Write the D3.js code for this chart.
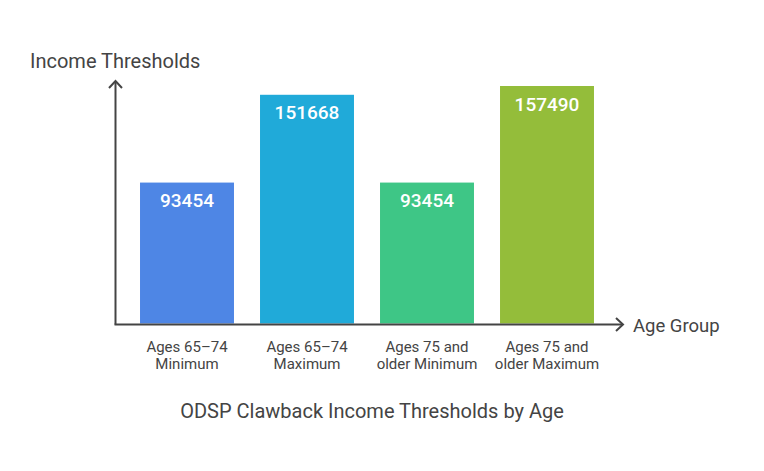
<!DOCTYPE html>
<html>
<head>
<meta charset="utf-8">
<script src="https://cdn.jsdelivr.net/npm/d3@7"></script>
<style>
  body { margin: 0; background: #fff; }
  svg { font-family: Roboto, "Noto Sans", sans-serif; }
</style>
</head>
<body>
<svg id="chart" width="764" height="471"></svg>
<script>
// data
var categories = [["Ages 65\u201374", "Minimum"], ["Ages 65\u201374", "Maximum"], ["Ages 75 and", "older Minimum"], ["Ages 75 and", "older Maximum"]];
var values = [93454, 151668, 93454, 157490];
var colors = ["#4e86e5", "#20aad9", "#3ec686", "#94bd3a"];

var svg = d3.select("#chart");
var axisColor = "#444";

var x = d3.scaleBand()
    .domain(d3.range(values.length))
    .range([127, 607])
    .paddingInner(0.217)
    .paddingOuter(0.1085);

var y = d3.scaleLinear()
    .domain([0, 157490])
    .range([323.5, 86]);

// bars
svg.selectAll("rect.bar")
    .data(values)
    .enter().append("rect")
    .attr("class", "bar")
    .attr("x", function (d, i) { return x(i); })
    .attr("width", x.bandwidth())
    .attr("y", function (d) { return y(d); })
    .attr("height", function (d) { return y(0) - y(d); })
    .attr("fill", function (d, i) { return colors[i]; });

// value labels
svg.selectAll("text.val")
    .data(values)
    .enter().append("text")
    .attr("class", "val")
    .attr("x", function (d, i) { return x(i) + x.bandwidth() / 2; })
    .attr("y", function (d) { return y(d) + 24.5; })
    .attr("text-anchor", "middle")
    .attr("fill", "#fff")
    .attr("font-size", "19px")
    .attr("font-weight", 500)
    .text(function (d) { return d; });

// category labels
var cat = svg.selectAll("text.cat")
    .data(categories)
    .enter().append("text")
    .attr("class", "cat")
    .attr("text-anchor", "middle")
    .attr("fill", axisColor)
    .attr("font-size", "15px");
cat.each(function (d, i) {
    var t = d3.select(this);
    d.forEach(function (line, j) {
        t.append("tspan")
            .attr("x", x(i) + x.bandwidth() / 2)
            .attr("y", 352 + j * 16.5)
            .text(line);
    });
});

// axes with arrows
var x0 = 115.5, y0 = 324.5;
svg.append("line")
    .attr("x1", x0).attr("y1", y0).attr("x2", x0).attr("y2", 81)
    .attr("stroke", axisColor).attr("stroke-width", 2);
svg.append("path")
    .attr("d", "M" + (x0 - 6.5) + "," + 88 + " L" + x0 + "," + 81 + " L" + (x0 + 6.5) + "," + 88)
    .attr("fill", "none").attr("stroke", axisColor).attr("stroke-width", 2);
svg.append("line")
    .attr("x1", x0 - 1).attr("y1", y0).attr("x2", 623).attr("y2", y0)
    .attr("stroke", axisColor).attr("stroke-width", 2);
svg.append("path")
    .attr("d", "M" + 616 + "," + (y0 - 6.5) + " L" + 623 + "," + y0 + " L" + 616 + "," + (y0 + 6.5))
    .attr("fill", "none").attr("stroke", axisColor).attr("stroke-width", 2);

// axis titles
svg.append("text")
    .attr("x", 30).attr("y", 68)
    .attr("fill", axisColor).attr("font-size", "20px")
    .text("Income Thresholds");
svg.append("text")
    .attr("x", 633).attr("y", 332)
    .attr("fill", axisColor).attr("font-size", "18.5px")
    .text("Age Group");

// chart title
svg.append("text")
    .attr("x", 372).attr("y", 418)
    .attr("text-anchor", "middle")
    .attr("fill", axisColor).attr("font-size", "20px")
    .text("ODSP Clawback Income Thresholds by Age");
</script>
</body>
</html>
